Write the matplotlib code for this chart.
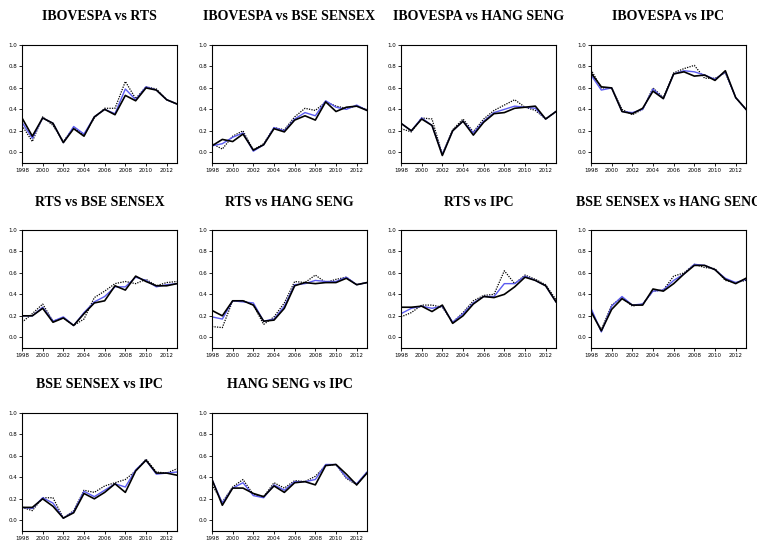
import matplotlib
matplotlib.use("Agg")
import matplotlib.pyplot as plt

# Years on the x axis
years = list(range(1998, 2014))

titles = [
    "IBOVESPA vs RTS", "IBOVESPA vs BSE SENSEX", "IBOVESPA vs HANG SENG", "IBOVESPA vs IPC",
    "RTS vs BSE SENSEX", "RTS vs HANG SENG", "RTS vs IPC", "BSE SENSEX vs HANG SENG",
    "BSE SENSEX vs IPC", "HANG SENG vs IPC",
]

# black solid line, per panel
solid = [
    [0.32, 0.15, 0.32, 0.27, 0.09, 0.22, 0.15, 0.33, 0.40, 0.35, 0.53, 0.48, 0.60, 0.58, 0.49, 0.45],
    [0.06, 0.12, 0.10, 0.17, 0.02, 0.07, 0.22, 0.19, 0.30, 0.34, 0.30, 0.47, 0.38, 0.42, 0.43, 0.39],
    [0.27, 0.20, 0.31, 0.25, -0.03, 0.20, 0.29, 0.16, 0.28, 0.36, 0.37, 0.41, 0.42, 0.43, 0.31, 0.38],
    [0.74, 0.61, 0.60, 0.38, 0.36, 0.41, 0.57, 0.50, 0.73, 0.75, 0.71, 0.72, 0.67, 0.76, 0.51, 0.40],
    [0.20, 0.20, 0.27, 0.14, 0.18, 0.11, 0.22, 0.32, 0.34, 0.48, 0.44, 0.57, 0.52, 0.48, 0.48, 0.50],
    [0.25, 0.20, 0.34, 0.34, 0.30, 0.15, 0.16, 0.27, 0.48, 0.51, 0.50, 0.51, 0.51, 0.55, 0.49, 0.51],
    [0.28, 0.28, 0.29, 0.24, 0.30, 0.13, 0.20, 0.31, 0.38, 0.37, 0.40, 0.47, 0.56, 0.53, 0.48, 0.33],
    [0.24, 0.06, 0.26, 0.36, 0.30, 0.30, 0.45, 0.43, 0.50, 0.59, 0.67, 0.67, 0.63, 0.54, 0.50, 0.55],
    [0.12, 0.12, 0.20, 0.13, 0.02, 0.07, 0.25, 0.20, 0.26, 0.34, 0.26, 0.46, 0.56, 0.44, 0.44, 0.42],
    [0.38, 0.14, 0.30, 0.30, 0.25, 0.22, 0.32, 0.26, 0.35, 0.36, 0.33, 0.51, 0.52, 0.43, 0.33, 0.44],
]

# blue line, per panel
blue = [
    [0.28, 0.13, 0.32, 0.27, 0.09, 0.24, 0.17, 0.33, 0.40, 0.36, 0.59, 0.49, 0.61, 0.58, 0.49, 0.45],
    [0.06, 0.08, 0.14, 0.18, 0.01, 0.07, 0.23, 0.20, 0.31, 0.37, 0.34, 0.48, 0.42, 0.40, 0.44, 0.39],
    [0.27, 0.20, 0.32, 0.25, -0.02, 0.20, 0.29, 0.18, 0.29, 0.37, 0.40, 0.43, 0.42, 0.41, 0.31, 0.38],
    [0.72, 0.58, 0.60, 0.38, 0.37, 0.40, 0.59, 0.50, 0.73, 0.76, 0.75, 0.72, 0.68, 0.75, 0.51, 0.40],
    [0.20, 0.20, 0.28, 0.15, 0.19, 0.11, 0.23, 0.33, 0.38, 0.47, 0.47, 0.56, 0.53, 0.47, 0.49, 0.50],
    [0.19, 0.17, 0.34, 0.33, 0.32, 0.15, 0.17, 0.29, 0.49, 0.50, 0.53, 0.52, 0.52, 0.56, 0.49, 0.51],
    [0.22, 0.27, 0.29, 0.27, 0.29, 0.14, 0.22, 0.32, 0.38, 0.38, 0.50, 0.50, 0.57, 0.53, 0.48, 0.33],
    [0.27, 0.05, 0.29, 0.38, 0.30, 0.31, 0.43, 0.44, 0.53, 0.59, 0.68, 0.67, 0.63, 0.55, 0.51, 0.54],
    [0.12, 0.11, 0.21, 0.16, 0.02, 0.08, 0.27, 0.22, 0.28, 0.34, 0.31, 0.47, 0.56, 0.43, 0.44, 0.45],
    [0.38, 0.16, 0.30, 0.35, 0.23, 0.21, 0.33, 0.28, 0.36, 0.36, 0.38, 0.52, 0.52, 0.40, 0.34, 0.45],
]

# black dotted line, per panel
dotted = [
    [0.25, 0.10, 0.33, 0.25, 0.10, 0.23, 0.16, 0.32, 0.41, 0.41, 0.66, 0.50, 0.61, 0.59, 0.49, 0.45],
    [0.08, 0.03, 0.15, 0.20, 0.02, 0.08, 0.23, 0.21, 0.33, 0.41, 0.39, 0.47, 0.43, 0.41, 0.43, 0.40],
    [0.22, 0.19, 0.32, 0.31, -0.02, 0.21, 0.31, 0.19, 0.31, 0.39, 0.44, 0.49, 0.42, 0.39, 0.31, 0.38],
    [0.77, 0.60, 0.60, 0.40, 0.35, 0.40, 0.60, 0.51, 0.74, 0.78, 0.81, 0.69, 0.69, 0.74, 0.51, 0.40],
    [0.14, 0.22, 0.31, 0.15, 0.18, 0.11, 0.17, 0.37, 0.43, 0.50, 0.52, 0.50, 0.54, 0.48, 0.51, 0.52],
    [0.10, 0.09, 0.34, 0.34, 0.30, 0.12, 0.19, 0.32, 0.52, 0.51, 0.58, 0.51, 0.54, 0.56, 0.49, 0.51],
    [0.19, 0.23, 0.30, 0.30, 0.28, 0.14, 0.23, 0.34, 0.39, 0.40, 0.62, 0.50, 0.58, 0.54, 0.49, 0.35],
    [0.24, 0.07, 0.30, 0.37, 0.29, 0.31, 0.43, 0.44, 0.57, 0.60, 0.68, 0.65, 0.64, 0.53, 0.51, 0.53],
    [0.12, 0.09, 0.21, 0.21, 0.02, 0.09, 0.28, 0.26, 0.32, 0.35, 0.38, 0.46, 0.57, 0.45, 0.44, 0.48],
    [0.33, 0.17, 0.31, 0.38, 0.24, 0.22, 0.35, 0.30, 0.37, 0.36, 0.41, 0.51, 0.52, 0.39, 0.33, 0.45],
]

W, H = 757, 549
fig = plt.figure(figsize=(W / 100, H / 100), dpi=100)

# axes positions in pixels (left, top of each column / row)
col_left = [22, 212, 401, 591]
row_top = [45, 230, 413]
ax_w, ax_h = 155, 118

for i, title in enumerate(titles):
    r, c = divmod(i, 4)
    left = col_left[c] / W
    bottom = 1 - (row_top[r] + ax_h) / H
    ax = fig.add_axes([left, bottom, ax_w / W, ax_h / H])

    ax.plot(years, dotted[i], color="black", linestyle=(0, (1, 1)), linewidth=0.9)
    ax.plot(years, blue[i], color="#5b5bf0", linewidth=1.0)
    ax.plot(years, solid[i], color="black", linewidth=1.2)

    ax.set_xlim(1998, 2013)
    ax.set_ylim(-0.1, 1.0)
    ax.set_xticks(range(1998, 2013, 2))
    ax.set_yticks([0.0, 0.2, 0.4, 0.6, 0.8, 1.0])
    ax.set_yticklabels(["0.0", "0.2", "0.4", "0.6", "0.8", "1.0"])
    ax.tick_params(labelsize=4, length=2, width=0.6, pad=1.5)
    for sp in ax.spines.values():
        sp.set_linewidth(0.8)

    ax.text(0.5, 1 + 28 / ax_h, title, transform=ax.transAxes, ha="center", va="center",
            family="Liberation Serif", fontweight="bold", fontsize=10, clip_on=False)

fig.savefig("out.png", dpi=100)
